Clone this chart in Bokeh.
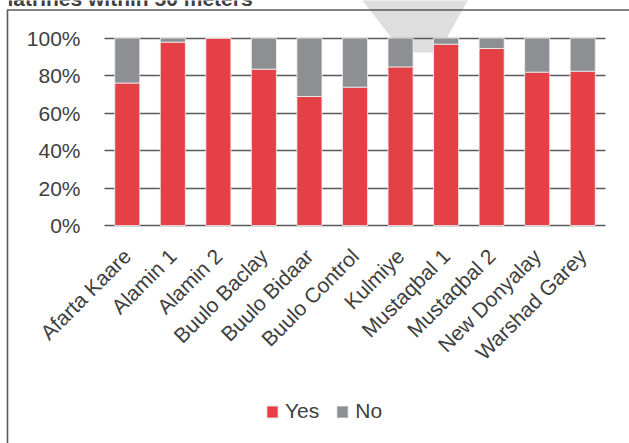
import math
from bokeh.plotting import figure
from bokeh.models import (ColumnDataSource, Range1d, NumeralTickFormatter, FixedTicker,
                          Legend, LegendItem, Label, PolyAnnotation)
from bokeh.embed import file_html
from bokeh.resources import INLINE

categories = ["Afarta Kaare", "Alamin 1", "Alamin 2", "Buulo Baclay", "Buulo Bidaar",
              "Buulo Control", "Kulmiye", "Mustaqbal 1", "Mustaqbal 2", "New Donyalay",
              "Warshad Garey"]
yes_vals = [0.76, 0.978, 1.0, 0.834, 0.688, 0.738, 0.846, 0.967, 0.944, 0.818, 0.823]
no_vals = [0.24, 0.022, 0.0, 0.166, 0.312, 0.262, 0.154, 0.033, 0.056, 0.182, 0.177]
series = ["Yes", "No"]
colors = ["#E54046", "#8E8F93"]
y_ticks = [0, 0.2, 0.4, 0.6, 0.8, 1.0]
title_text = "latrines within 50 meters"

FONT = "Liberation Sans"
TXT = "#404040"

W, H = 629, 443
# plot-area box inside the canvas (px)
PL, PR, PT, PB = 104, 605, 37.5, 225

n = len(categories)
xpos = list(range(n))
ppu_x = (PR - PL) / n
ppu_y = (PB - PT) / 1.0
x_start = -0.5 - PL / ppu_x
x_end = n - 0.5 + (W - PR) / ppu_x
y_start = -(H - PB) / ppu_y
y_end = 1.0 + PT / ppu_y

source = ColumnDataSource(dict(x=xpos, cat=categories, Yes=yes_vals, No=no_vals))

p = figure(width=W, height=H, x_range=Range1d(x_start, x_end),
           y_range=Range1d(y_start, y_end), output_backend="svg", toolbar_location=None,
           min_border=0, outline_line_color=None,
           background_fill_color="white", border_fill_color="white")

# background watermark shape
tri_x = [358, 470, 442, 434, 405, 397]
tri_y = [-5, -5, 45, 52, 52, 45]
p.add_layout(PolyAnnotation(xs=tri_x, ys=[H - y for y in tri_y],
                            xs_units="screen", ys_units="screen",
                            fill_color="#DEDEDE", fill_alpha=1, line_color=None,
                            level="image"))

# gridlines limited to the plot area
grid = p.ygrid[0]
grid.ticker = FixedTicker(ticks=y_ticks)
grid.grid_line_color = "#595959"
grid.grid_line_width = 1.6
p.xgrid.grid_line_color = None
if "cross_bounds" in grid.properties():
    grid.cross_bounds = (-0.5, n - 0.5)
else:
    grid.grid_line_color = None
    p.segment(x0=[-0.5] * len(y_ticks), x1=[n - 0.5] * len(y_ticks), y0=y_ticks,
              y1=y_ticks, line_color="#595959", line_width=1.6)

rs = p.vbar_stack(series, x="x", width=0.55, source=source, color=colors,
                  line_color="#F0F0F0", line_width=0.8)

# axes placed at the plot-area edges
p.yaxis.fixed_location = -0.5
p.xaxis.fixed_location = 0
p.yaxis.formatter = NumeralTickFormatter(format="0%")
p.yaxis.ticker = FixedTicker(ticks=y_ticks)
p.xaxis.ticker = FixedTicker(ticks=xpos)
p.xaxis.major_label_overrides = {i: c for i, c in zip(xpos, categories)}
for ax in (p.xaxis[0], p.yaxis[0]):
    ax.axis_line_color = None
    ax.major_tick_line_color = None
    ax.minor_tick_line_color = None
    ax.major_tick_in = 0
    ax.major_tick_out = 0
    ax.major_label_text_font = FONT
    ax.major_label_text_font_size = "21px"
    ax.major_label_text_color = TXT
p.yaxis.major_label_standoff = 24
p.xaxis.major_label_orientation = math.pi / 4
p.xaxis.major_label_standoff = 27

# chart-area border (left and top edges visible)
bx = [7, 660, 660, 7, 7]
by = [9.5, 9.5, 470, 470, 9.5]
p.add_layout(PolyAnnotation(xs=bx, ys=[H - y for y in by],
                            xs_units="screen", ys_units="screen",
                            fill_alpha=0, line_color="#5A5A5A", line_alpha=1,
                            line_width=1.6))

# title (cut at the top of the picture)
p.add_layout(Label(x=7, y=H + 2, x_units="screen", y_units="screen",
                   text=title_text, text_font=FONT, text_font_style="bold",
                   text_font_size="21px", text_color=TXT,
                   text_baseline="alphabetic"))

legend = Legend(items=[LegendItem(label=s, renderers=[r]) for s, r in zip(series, rs)],
                orientation="horizontal", location=(265, H - 423),
                label_text_font=FONT, label_text_font_size="21px",
                label_text_color=TXT, glyph_width=14, glyph_height=15,
                label_standoff=6, spacing=16, padding=0, margin=0,
                border_line_color=None, background_fill_alpha=0)
p.add_layout(legend)

open("out.html", "w").write(file_html(p, INLINE))
